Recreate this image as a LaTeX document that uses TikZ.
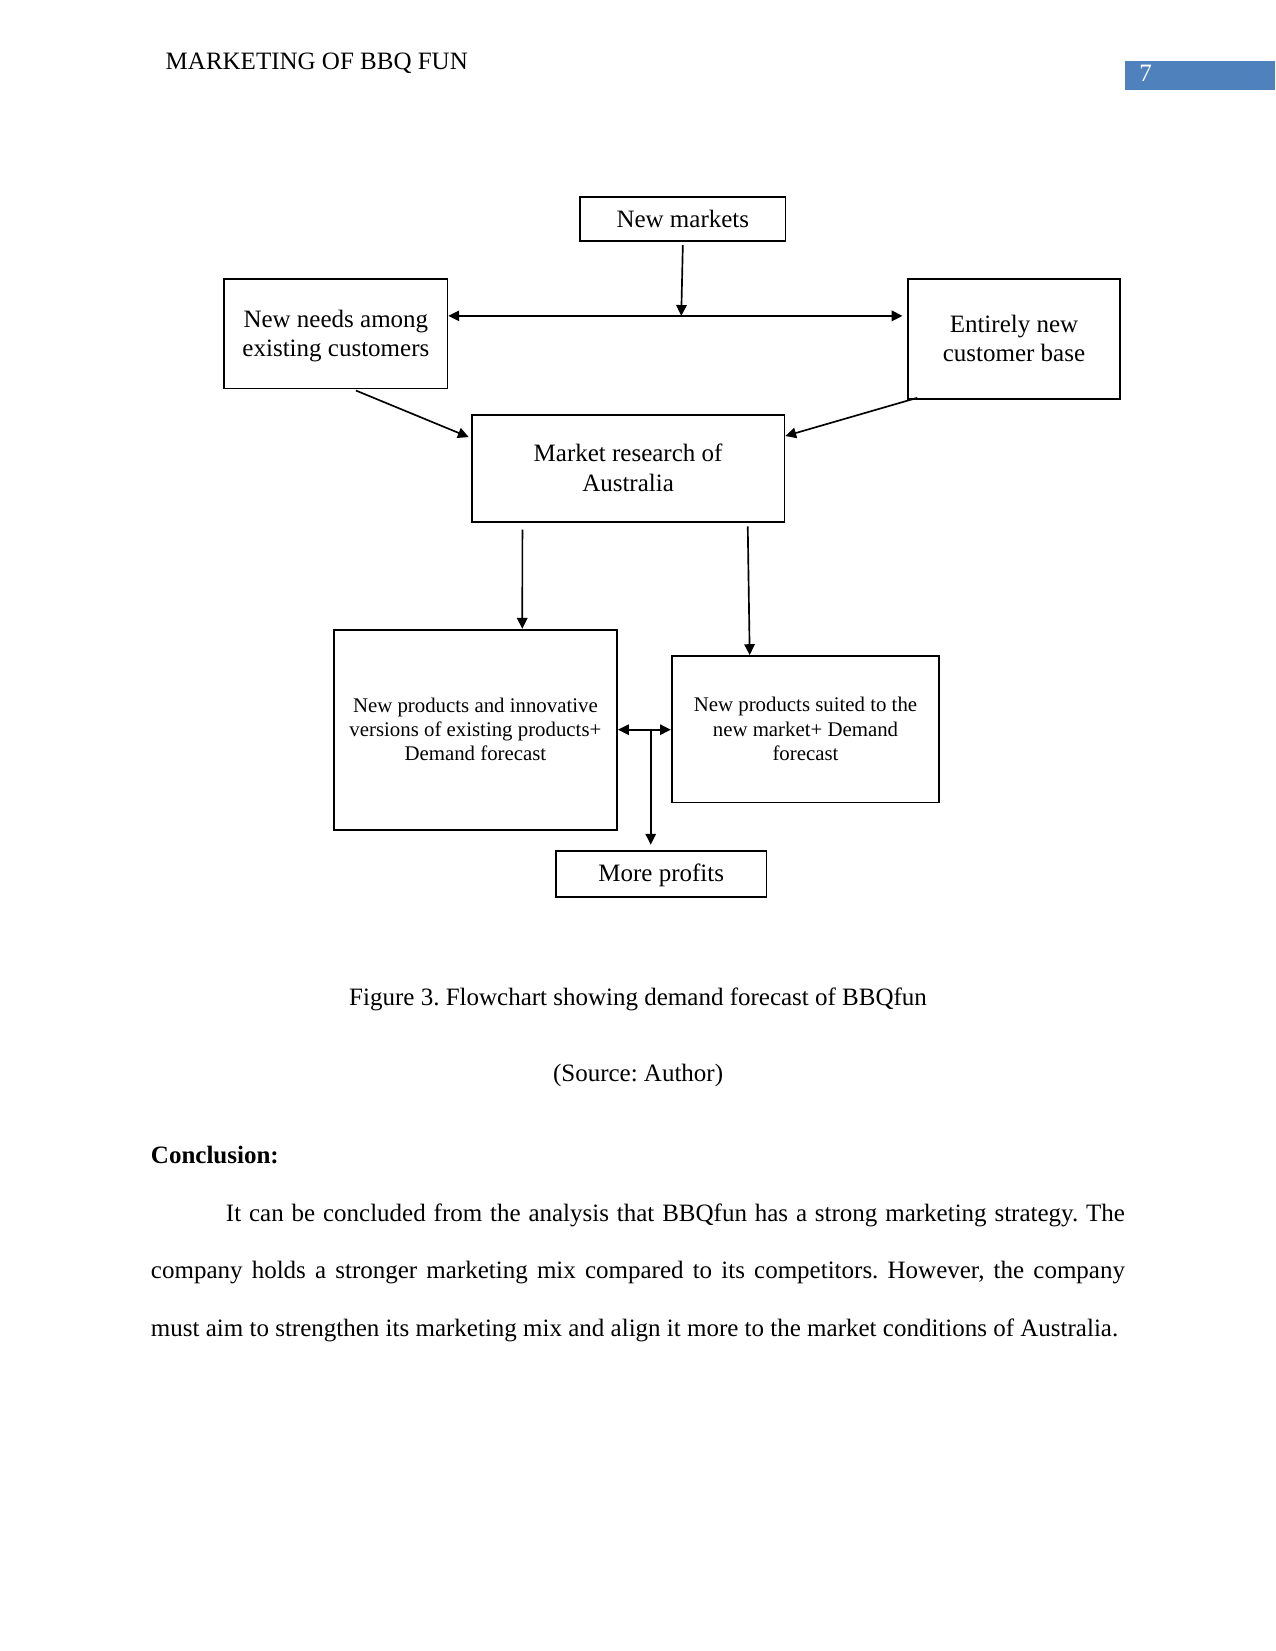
\documentclass[tikz,border=0pt]{standalone}
\usepackage{fontspec}
\setmainfont{Liberation Serif}
\usetikzlibrary{arrows.meta,calc}
\definecolor{hdrblue}{RGB}{79,129,189}
\frenchspacing
\newcommand\lowtxt[1]{\raisebox{-1pt}[\height][\depth]{\begin{tabular}{@{}c@{}}#1\end{tabular}}}
\begin{document}
\begin{tikzpicture}[x=0.5054pt,y=-0.5054pt,
  box/.style={draw,line width=0.85pt,rectangle,inner sep=0pt,align=center},
  big/.style={font=\fontsize{12}{14}\selectfont},
  small/.style={font=\fontsize{10}{11.6}\selectfont},
  arr/.style={line width=0.8pt,-{Triangle[length=5.2pt,width=5pt]}},
  darr/.style={line width=0.8pt,{Triangle[length=5.2pt,width=5pt]}-{Triangle[length=5.2pt,width=5pt]}},
  txt/.style={inner sep=0pt,font=\fontsize{12}{14}\selectfont}]
\useasboundingbox (0,0) rectangle (1211,1568);
% header
\fill[hdrblue] (1068,58) rectangle (1211,85);
\node[txt,anchor=base,text=white] (pg) at (1088,77) {7};
\node[txt,anchor=base west] (hdr) at (157,66) {MARKETING OF BBQ FUN};
% boxes
\node[box,big,minimum width=98.6pt,minimum height=21.2pt] (nm) at (648.5,208) {New markets};
\node[box,big,minimum width=107.1pt,minimum height=52.6pt] (nn) at (319,317) {\lowtxt{New needs among\\existing customers}};
\node[box,big,minimum width=102.1pt,minimum height=57.6pt] (en) at (963,322) {\lowtxt{Entirely new\\customer base}};
\node[box,big,minimum width=150.1pt,minimum height=51.6pt] (mr) at (596.5,445) {\lowtxt{Market research of\\Australia}};
\node[box,small,minimum width=136pt,minimum height=96pt] (lp) at (451.5,693) {\lowtxt{New products and innovative\\versions of existing products+\\Demand forecast}};
\node[box,small,minimum width=128.4pt,minimum height=70.3pt] (rp) at (765,692.5) {\lowtxt{New products suited to the\\new market+ Demand\\forecast}};
\node[box,big,minimum width=101.1pt,minimum height=22.2pt] (mp) at (628,830) {\lowtxt{More profits}};
% connectors
\coordinate (j1) at (647,300);
\draw[arr] ($(nm.south)+(0,3)$) -- (j1);
\draw[darr] (nn.east |- j1) -- ($(en.west |- j1)+(-4,0)$);
\draw[arr] ($(nn.south)+(19,1)$) -- ($(mr.north west)+(-2,22)$);
\draw[arr] ($(en.south west)+(10,-2)$) -- ($(mr.north east)+(0,21)$);
\draw[arr] ($(mr.south west)+(49,6)$) -- ($(lp.north)+(44.5,0)$);
\draw[arr] ($(mr.south west)+(263,3)$) -- ($(rp.north)+(-53,0)$);
\draw[darr] (lp.east) -- (lp.east -| rp.west);
\coordinate (j2) at (618,692);
\draw[arr] (j2) -- ($(j2 |- mp.north)+(0,-5)$);
% captions and text
\node[txt,anchor=base] (cap) at (606,955) {Figure 3. Flowchart showing demand forecast of BBQfun};
\node[txt,anchor=base] (src) at (606,1027) {(Source: Author)};
\node[txt,anchor=base west,font=\fontsize{12}{14}\selectfont\bfseries] (concl) at (143,1105) {Conclusion:};
\node[inner sep=0pt,anchor=base west] (para) at (143,1160) {\parbox[t]{467.5pt}{\fontsize{12}{27.6}\selectfont\frenchspacing\tolerance=9999\hyphenpenalty=10000\setlength\parindent{36pt}\indent It can be concluded from the analysis that BBQfun has a strong marketing strategy. The\linebreak company holds a stronger marketing mix compared to its competitors. However, the company\linebreak must aim to strengthen its marketing mix and align it more to the market conditions of Australia.}};
\end{tikzpicture}
\end{document}
